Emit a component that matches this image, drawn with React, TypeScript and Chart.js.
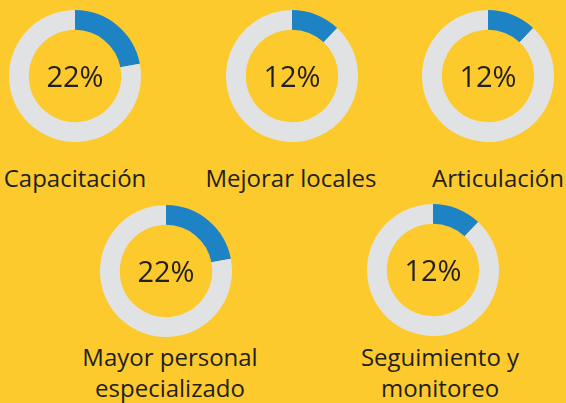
import React, { useEffect, useRef } from "react";
import { Chart, registerables } from "chart.js";

Chart.register(...registerables);

const categories = ["Capacitación", "Mejorar locales", "Articulación", "Mayor personal\nespecializado", "Seguimiento y\nmonitoreo"];
const percentValues = [22, 12, 12, 22, 12];
const centerLabels = ["22%", "12%", "12%", "22%", "12%"];

// layout only (not data)
const donutCenters = [
  [75, 75.5],
  [291.5, 75.5],
  [487.5, 76],
  [166, 271],
  [432.5, 269.5],
];
const labelCenters = [
  [75, 178],
  [291, 178],
  [498, 178],
  [170, 357],
  [440, 357],
];

const BG = "#FDCA2E";
const BLUE = "#1E83C5";
const GREY = "#E1E2E4";
const TEXT = "#231F20";
const FONT = "'Open Sans', 'Noto Sans', sans-serif";
const R = 66;

const centerTextPlugin = {
  id: "centerText",
  afterDraw(chart: any) {
    const txt = chart.options.plugins.centerText?.text;
    if (!txt) return;
    const { ctx } = chart;
    const meta = chart.getDatasetMeta(0);
    const arc = meta.data[0];
    if (!arc) return;
    ctx.save();
    ctx.font = `29px ${FONT}`;
    ctx.fillStyle = TEXT;
    ctx.textAlign = "center";
    ctx.textBaseline = "middle";
    ctx.fillText(txt, arc.x, arc.y + 3);
    ctx.restore();
  },
};

function Donut({ idx }: { idx: number }) {
  const ref = useRef<HTMLCanvasElement>(null);
  useEffect(() => {
    if (!ref.current) return;
    const v = percentValues[idx];
    const chart = new Chart(ref.current, {
      type: "doughnut",
      data: {
        labels: [categories[idx], "Resto"],
        datasets: [
          {
            data: [v, 100 - v],
            backgroundColor: [BLUE, GREY],
            borderWidth: 0,
          },
        ],
      },
      options: {
        animation: false,
        responsive: false,
        cutout: "70%",
        layout: { padding: 0 },
        plugins: {
          legend: { display: false },
          tooltip: { enabled: false },
          centerText: { text: centerLabels[idx] },
        } as any,
      },
      plugins: [centerTextPlugin],
    });
    return () => chart.destroy();
  }, [idx]);
  const [cx, cy] = donutCenters[idx];
  return (
    <canvas
      ref={ref}
      width={R * 2}
      height={R * 2}
      style={{ position: "absolute", left: cx - R, top: cy - R, width: R * 2, height: R * 2 }}
    />
  );
}

export default function App() {
  return (
    <div
      style={{
        position: "fixed",
        left: 0,
        top: 0,
        width: 566,
        height: 403,
        background: BG,
        overflow: "hidden",
      }}
    >
      {categories.map((_, i) => (
        <Donut key={i} idx={i} />
      ))}
      {categories.map((c, i) => {
        const [lx, ly] = labelCenters[i];
        const lines = c.split("\n");
        return (
          <div
            key={"l" + i}
            style={{
              position: "absolute",
              left: lx - 150,
              width: 300,
              top: ly - 16,
              textAlign: "center",
              fontFamily: FONT,
              fontSize: 24,
              lineHeight: "31px",
              color: TEXT,
              whiteSpace: "nowrap",
            }}
          >
            {lines.map((t, k) => (
              <div key={k}>{t}</div>
            ))}
          </div>
        );
      })}
    </div>
  );
}
